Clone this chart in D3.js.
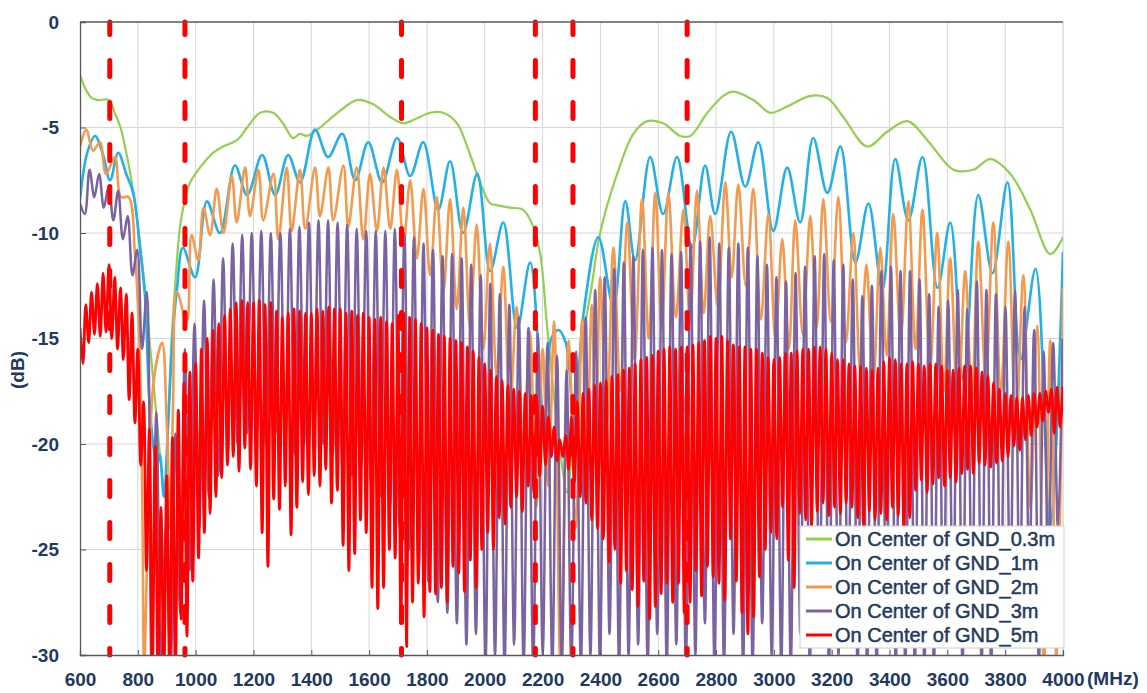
<!DOCTYPE html>
<html><head><meta charset="utf-8">
<script src="https://cdn.jsdelivr.net/npm/d3@7"></script>
<style>html,body{margin:0;padding:0;background:#fff;} svg{display:block;font-family:"Liberation Sans",Arial,sans-serif;}</style>
</head><body><svg id="c" width="1147" height="693"></svg>
<script>
// ---------------- DATA ----------------
const xTicks = [600,800,1000,1200,1400,1600,1800,2000,2200,2400,2600,2800,3000,3200,3400,3600,3800,4000];
const yTicks = [0,-5,-10,-15,-20,-25,-30];
const seriesNames = ["On Center of GND_0.3m","On Center of GND_1m","On Center of GND_2m","On Center of GND_3m","On Center of GND_5m"];
const bandEdges = [703, 963, 1712, 2175, 2305, 2700];

// 0.3m : [MHz, dB]
const gnd03 = [[600,-2.5],[620,-3.2],[640,-3.6],[660,-3.7],[700,-3.7],[720,-4.3],[740,-5.0],[760,-6.2],[784,-8.0],[813,-11.1],[840,-15],[860,-18],[880,-21],[893,-22.5],[905,-19],[915,-15.5],[929,-12.5],[946,-9.7],[965,-8.3],[981,-7.6],[1015,-6.9],[1060,-6.2],[1095,-5.9],[1143,-5.6],[1178,-5.0],[1223,-4.3],[1268,-4.3],[1302,-4.8],[1337,-5.5],[1360,-5.3],[1385,-5.4],[1430,-5.0],[1500,-4.2],[1558,-3.7],[1614,-3.9],[1673,-4.5],[1718,-4.8],[1760,-4.6],[1811,-4.3],[1856,-4.3],[1904,-4.8],[1939,-5.9],[1984,-7.6],[2019,-8.6],[2050,-8.7],[2088,-8.8],[2133,-8.9],[2168,-9.7],[2192,-11.0],[2216,-14.5],[2250,-19],[2285,-22.3],[2306,-19.2],[2340,-15],[2370,-12.5],[2399,-10],[2458,-7.2],[2514,-5.3],[2562,-4.7],[2617,-4.8],[2676,-5.4],[2711,-5.4],[2770,-4.3],[2825,-3.5],[2860,-3.3],[2929,-3.7],[2988,-4.3],[3046,-4.0],[3126,-3.5],[3185,-3.6],[3240,-4.5],[3323,-5.9],[3392,-5.2],[3462,-4.7],[3531,-5.6],[3621,-7.0],[3690,-7.0],[3749,-6.5],[3818,-7.2],[3887,-8.9],[3956,-11.0],[4000,-10.2]];

// 1m : [MHz, dB] peaks and troughs
const gnd1 = [[600,-8.4],[625,-6.2],[652,-5.4],[680,-6.3],[704,-7.5],[732,-6.2],[760,-7.2],[784,-8.1],[808,-10.8],[825,-13],[842,-18.4],[866,-21],[876,-20.5],[890,-22.5],[905,-19],[920,-15],[935,-12.7],[956,-10.7],[998,-12.1],[1039,-8.5],[1084,-10.0],[1136,-6.8],[1178,-8.2],[1230,-6.3],[1275,-8.2],[1320,-6.3],[1361,-7.6],[1413,-5.1],[1458,-6.4],[1507,-5.3],[1552,-7.5],[1597,-5.7],[1645,-7.6],[1697,-5.5],[1742,-7.3],[1787,-5.7],[1839,-8.9],[1880,-6.6],[1925,-10.0],[1974,-7.2],[2019,-11.8],[2064,-9.5],[2112,-14.5],[2157,-11.4],[2205,-19],[2230,-15],[2255,-14.6],[2280,-15.2],[2310,-19],[2340,-14],[2393,-10.2],[2445,-13.5],[2486,-8.5],[2520,-11.3],[2572,-6.4],[2617,-9.1],[2665,-6.4],[2717,-10.7],[2762,-6.8],[2797,-9.1],[2852,-5.2],[2901,-7.8],[2946,-5.7],[2998,-9.9],[3046,-6.9],[3091,-9.5],[3136,-5.5],[3185,-8.1],[3230,-5.9],[3282,-11.4],[3327,-8.6],[3375,-12.7],[3420,-6.5],[3465,-9.4],[3514,-6.4],[3566,-12.6],[3610,-9.5],[3656,-17],[3707,-8.2],[3756,-11.9],[3808,-7.6],[3853,-16],[3905,-11.7],[3956,-24],[4000,-10.9]];

// 2m : [MHz, dB] peaks and troughs
const gnd2 = [[600,-5.9],[622,-5.1],[645,-6.1],[669,-5.7],[690,-7.2],[721,-6.4],[742,-8.3],[768,-8.3],[790,-11],[805,-15],[815,-22],[822,-30.5],[835,-24],[855,-17],[884,-15.2],[900,-19],[912,-24],[922,-18],[935,-12.8],[969,-14.2],[986,-10.1],[1009,-11.3],[1027,-8.8],[1050,-10.1],[1073,-7.9],[1096,-10.0],[1125,-7.3],[1142,-9.5],[1171,-6.9],[1188,-9.2],[1217,-7.0],[1234,-9.4],[1269,-7.2],[1286,-10.3],[1315,-6.9],[1332,-9.9],[1361,-7.0],[1379,-9.8],[1413,-6.9],[1430,-9.2],[1459,-6.9],[1476,-9.4],[1511,-6.8],[1528,-9.7],[1557,-6.9],[1580,-10.3],[1603,-7.2],[1627,-9.9],[1650,-6.9],[1673,-9.8],[1696,-7.0],[1719,-10.5],[1742,-7.5],[1765,-11.2],[1788,-7.9],[1811,-12],[1834,-8.3],[1857,-12.8],[1880,-8.4],[1903,-13.6],[1926,-8.8],[1949,-14.5],[1972,-9.6],[1995,-15.5],[2018,-10.5],[2041,-16.8],[2064,-11.6],[2087,-18.5],[2110,-13.5],[2133,-20.5],[2156,-14.7],[2178,-23],[2200,-15.5],[2220,-22],[2240,-14.2],[2262,-30.5],[2290,-15.1],[2314,-24],[2337,-14.1],[2352,-22],[2370,-13.4],[2385,-20],[2399,-12.1],[2422,-19],[2445,-10.7],[2469,-17.5],[2493,-9.5],[2518,-16],[2544,-8.4],[2567,-15],[2590,-8.1],[2612,-14.5],[2635,-8.1],[2661,-14],[2687,-8.9],[2710,-14.2],[2734,-8.0],[2757,-13.8],[2780,-9.2],[2806,-13.5],[2832,-7.6],[2854,-12.1],[2877,-7.7],[2903,-12.5],[2929,-7.9],[2955,-14.1],[2981,-9.1],[3005,-15],[3029,-10.3],[3052,-15.5],[3074,-9.4],[3100,-14.8],[3126,-9.2],[3148,-14.5],[3171,-8.4],[3197,-14.2],[3223,-8.3],[3249,-15.2],[3275,-10.0],[3298,-16.5],[3320,-11.5],[3344,-17],[3368,-10.7],[3390,-15.8],[3413,-9.1],[3439,-15],[3465,-8.5],[3490,-15.5],[3514,-8.9],[3540,-16.5],[3565,-10.0],[3588,-17.5],[3610,-11.2],[3636,-18.5],[3662,-11.8],[3685,-18],[3707,-10.4],[3733,-17],[3759,-9.5],[3785,-17.5],[3811,-10.4],[3837,-19.5],[3863,-12.0],[3887,-23],[3911,-14.4],[3934,-30.5],[3956,-15.1],[3978,-30.5],[4000,-12.6]];

// 3m : peaks every 33 MHz from 600, troughs halfway between
const gnd3Start = 600, gnd3Step = 33;
const gnd3Peaks = [-8.6,-7.0,-7.2,-7.8,-8.0,-9.2,-10.8,-12.8,-18.5,-24.0,-19.5,-15.5,-14.3,-13.2,-12.2,-11.2,-10.5,-10.1,-10.0,-9.9,-10.0,-10.0,-9.8,-9.7,-9.5,-9.4,-9.4,-9.5,-9.6,-9.8,-9.9,-9.9,-9.9,-9.8,-10.0,-10.2,-10.5,-10.8,-11.1,-11.0,-11.2,-11.5,-12.0,-12.4,-12.9,-13.4,-14.0,-14.5,-14.8,-15.2,-15.8,-16.5,-15.6,-14.0,-12.7,-12.1,-11.7,-11.4,-11.1,-10.8,-10.7,-10.8,-11.0,-10.9,-10.5,-10.4,-10.2,-10.5,-10.7,-10.5,-10.7,-11.1,-11.5,-12.1,-12.3,-11.9,-11.6,-11.1,-11.0,-11.3,-11.5,-12.2,-13.0,-12.5,-11.8,-11.6,-11.8,-11.8,-12.2,-12.9,-13.5,-13.2,-12.7,-13.6,-12.3,-12.7,-12.9,-13.5,-12.7,-13.5,-14.6,-15.6,-15.2,-15.0];
const gnd3Troughs = [-9.1,-8.3,-8.8,-9.4,-10.3,-12.0,-15.5,-30.5,-30.5,-30.5,-28,-26,-24,-22.5,-21.5,-20.5,-20,-19.5,-19.5,-20,-19.5,-20,-20.5,-20,-19.5,-20,-20.5,-21,-21.5,-21,-22,-22.5,-23,-24,-25,-26,-26.5,-27.5,-28,-28.5,-29.5,-29,-30.5,-30,-30.5,-29.5,-30.5,-30.5,-30,-30.5,-30.5,-30.5,-30.5,-30,-30.5,-29,-30.5,-30,-29.5,-30.5,-29,-30.5,-29.5,-30.5,-30,-28.5,-30.5,-30.5,-29,-30.5,-30.5,-28.5,-30,-30.5,-30.5,-29,-30.5,-28.5,-30.5,-30,-29,-30.5,-30.5,-30.5,-28,-30.5,-30.5,-30.5,-30.5,-30.5,-29,-28.5,-30.5,-28,-30.5,-30.5,-29,-27.5,-28,-26.5,-30.5,-26,-24];

// 5m : peaks every 20 MHz from 600, troughs halfway between
const gnd5Start = 600, gnd5Step = 20;
const gnd5Peaks = [
-14.5,-13.4,-12.8,-12.4,-11.9, -11.5,-12.1,-12.6,-12.9,-13.8, -15.5,-18.0,-19.3,-20.1,-23.0, -21.5,-19.7,-18.4,-17.1,-16.6,
-16.2,-15.5,-15.0,-14.6,-14.3, -13.9,-13.6,-13.3,-13.2,-13.3, -13.3,-13.2,-13.4,-13.3,-13.7, -14.0,-13.8,-13.6,-13.7,-13.8,
-13.8,-13.6,-13.7,-13.5,-13.6, -13.6,-13.8,-13.7,-13.9,-13.8, -14.0,-14.1,-14.0,-14.2,-14.3, -13.9,-13.8,-14.0,-14.1,-14.3,
-14.5,-14.6,-14.8,-14.9,-15.0, -15.1,-15.2,-15.4,-15.6,-15.9, -16.2,-16.5,-16.8,-17.0,-17.2, -17.4,-17.5,-17.6,-17.7,-17.9,
-18.2,-18.7,-19.2,-19.8,-19.6, -18.7,-18.0,-17.6,-17.4,-17.2, -17.1,-17.0,-16.8,-16.7,-16.5, -16.4,-16.2,-16.0,-15.9,-15.8,
-15.6,-15.5,-15.4,-15.5,-15.4, -15.4,-15.3,-15.2,-15.1,-14.9, -15.0,-14.9,-15.1,-15.3,-15.4, -15.4,-15.5,-15.5,-15.7,-15.9,
-16.0,-15.9,-15.7,-15.7,-15.6, -15.5,-15.5,-15.4,-15.4,-15.5, -15.7,-16.0,-16.0,-16.2,-16.3, -16.3,-16.4,-16.5,-16.4,-16.1,
-15.9,-16.0,-16.2,-16.2,-16.1, -16.2,-16.3,-16.2,-16.2,-16.3, -16.5,-16.5,-16.4,-16.3,-16.3, -16.4,-16.6,-16.8,-17.1,-17.4,
-17.6,-17.7,-17.8,-17.8,-17.7, -17.6,-17.6,-17.5,-17.4,-17.3, -17.3];
const gnd5Troughs = [
-16.2,-15.2,-14.8,-14.9,-14.7, -15.0,-15.5,-16.0,-17.9,-19.0, -21.0,-26.0,-31.0,-31.0,-31.0, -31.0,-31.0,-28.3,-29.1,-26.5,
-25.4,-24.2,-23.3,-22.5,-21.6, -21.0,-20.6,-21.3,-20.2,-21.2, -22.0,-24.2,-25.8,-22.6,-23.1, -22.0,-24.3,-23.0,-21.8,-22.4,
-21.5,-22.0,-21.2,-22.8,-22.2, -24.8,-26.0,-25.2,-23.6,-24.2, -26.8,-27.8,-26.8,-25.0,-25.4, -28.5,-29.6,-27.5,-26.6,-28.2,
-27.0,-27.1,-26.8,-27.5,-25.8, -26.1,-27.0,-25.5,-26.8,-25.0, -24.2,-25.0,-23.5,-23.8,-23.0, -22.5,-23.2,-22.0,-22.3,-21.5,
-21.0,-20.6,-20.8,-20.6,-21.2, -21.8,-22.5,-22.8,-23.6,-24.0, -24.5,-25.6,-25.0,-26.6,-26.0, -26.9,-27.7,-26.5,-28.3,-27.7,
-27.1,-26.6,-27.5,-26.6,-28.0, -27.5,-26.0,-27.2,-25.8,-26.3, -26.6,-27.4,-24.5,-26.5,-28.0, -29.0,-28.2,-26.3,-25.0,-24.2,
-24.5,-23.0,-25.5,-26.8,-23.3, -23.6,-23.9,-23.2,-22.8,-23.4, -23.0,-23.3,-22.8,-23.0,-23.5, -23.9,-23.2,-23.6,-23.3,-23.6,
-23.0,-23.4,-24.1,-23.5,-22.2, -21.7,-22.3,-21.9,-21.6,-22.0, -21.6,-21.8,-21.4,-21.2,-21.4, -20.9,-21.0,-21.1,-20.9,-20.8,
-20.6,-20.1,-20.3,-19.8,-19.6, -19.2,-18.9,-18.5,-19.5,-19.2];

// ---------------- DRAW ----------------
const L = 80, R = 1063, T = 22, B = 655;
const txt = "#1f3864";
const colors = ["#92d050", "#22b0e8", "#f39a4e", "#7b62a0", "#ff0000"];
const widths = [2.2, 2.6, 2.6, 2.5, 2.8];

const svg = d3.select("#c");
const x = d3.scaleLinear().domain([600, 4000]).range([L, R]);
const y = d3.scaleLinear().domain([-30, 0]).range([B, T]);

function alternate(start, step, peaks, troughs) {
  const pts = [];
  peaks.forEach((p, i) => {
    pts.push([start + i * step, p]);
    if (i < troughs.length) pts.push([start + (i + 0.5) * step, troughs[i]]);
  });
  return pts;
}
const data = [gnd03, gnd1, gnd2,
  alternate(gnd3Start, gnd3Step, gnd3Peaks, gnd3Troughs),
  alternate(gnd5Start, gnd5Step, gnd5Peaks, gnd5Troughs)];

// grid
const grid = svg.append("g");
grid.selectAll(".vg").data(xTicks.filter(d => d > 600 && d < 4000)).join("line")
  .attr("x1", d => x(d)).attr("x2", d => x(d)).attr("y1", T).attr("y2", B)
  .attr("stroke", "#d6d6d6").attr("stroke-width", 1);
grid.selectAll(".hg").data(yTicks.filter(d => d > -30 && d < 0)).join("line")
  .attr("x1", L).attr("x2", R).attr("y1", d => y(d)).attr("y2", d => y(d))
  .attr("stroke", "#d6d6d6").attr("stroke-width", 1);
grid.append("line").attr("x1", R).attr("x2", R).attr("y1", T).attr("y2", B)
  .attr("stroke", "#c8c8c8").attr("stroke-width", 1);

svg.append("clipPath").attr("id", "pc").append("rect")
  .attr("x", L).attr("y", T).attr("width", R - L).attr("height", B - T);

const line = d3.line().x(d => x(d[0])).y(d => y(d[1])).curve(d3.curveCatmullRom.alpha(0.5));
const plot = svg.append("g").attr("clip-path", "url(#pc)");
data.forEach((d, i) => {
  plot.append("path").datum(d).attr("d", line).attr("fill", "none")
    .attr("stroke", colors[i]).attr("stroke-width", widths[i]).attr("stroke-linejoin", "round");
});

// band edge dashed markers
svg.selectAll(".band").data(bandEdges).join("line")
  .attr("x1", d => x(d)).attr("x2", d => x(d)).attr("y1", T).attr("y2", B)
  .attr("stroke", "#ff0000").attr("stroke-width", 5)
  .attr("stroke-dasharray", "16,26").attr("stroke-dashoffset", 3.5).attr("stroke-linecap", "round");

// axes
const xa = svg.append("g").attr("transform", `translate(0,${B})`)
  .call(d3.axisBottom(x).tickValues(xTicks).tickSize(-5).tickPadding(18).tickFormat(d => String(d)));
const ya = svg.append("g").attr("transform", `translate(${L},0)`)
  .call(d3.axisLeft(y).tickValues(yTicks).tickSize(-6).tickPadding(21).tickFormat(d => String(d)));
[xa, ya].forEach(a => {
  a.select(".domain").attr("stroke", "#595959").attr("stroke-width", 1.3);
  a.selectAll(".tick line").attr("stroke", "#595959");
  a.selectAll("text").attr("fill", txt).attr("font-size", 19).attr("font-weight", "bold")
    .attr("font-family", '"Liberation Sans",Arial,sans-serif');
});
// top border
svg.append("line").attr("x1", L).attr("x2", R).attr("y1", T).attr("y2", T)
  .attr("stroke", "#595959").attr("stroke-width", 1.3);

svg.append("text").attr("x", 1087).attr("y", 685).attr("fill", txt)
  .attr("font-size", 19).attr("font-weight", "bold").text("(MHz)");
svg.append("text").attr("transform", "translate(24,370) rotate(-90)").attr("text-anchor", "middle")
  .attr("fill", txt).attr("font-size", 19).attr("font-weight", "bold").text("(dB)");

// legend
const lg = svg.append("g");
lg.append("rect").attr("x", 800).attr("y", 526).attr("width", 264).attr("height", 122)
  .attr("fill", "#fff").attr("stroke", "#cfcfcf");
seriesNames.forEach((n, i) => {
  const cy = 539 + i * 24;
  lg.append("line").attr("x1", 806).attr("x2", 832).attr("y1", cy).attr("y2", cy)
    .attr("stroke", colors[i]).attr("stroke-width", 3);
  lg.append("text").attr("x", 835).attr("y", cy + 7).attr("fill", "#243a5e")
    .attr("stroke", "#243a5e").attr("stroke-width", 0.5)
    .attr("font-size", 20).text(n);
});
</script></body></html>
